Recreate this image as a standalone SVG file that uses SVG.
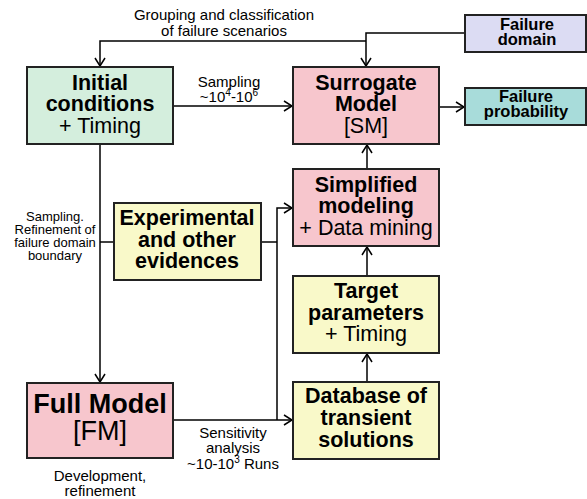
<svg xmlns="http://www.w3.org/2000/svg" width="587" height="499" viewBox="0 0 587 499">
<defs>
<marker id="arr" markerWidth="10" markerHeight="12" refX="9" refY="6" orient="auto" markerUnits="userSpaceOnUse">
<path d="M1,1 L9,6 L1,11" fill="none" stroke="#000" stroke-width="1.5"/>
</marker>
</defs>
<style>
.box{stroke:#222;stroke-width:2}
.green{fill:#d4eedd}
.pink{fill:#f7c6cd}
.yellow{fill:#f9f9c9}
.lav{fill:#dcdcf3}
.teal{fill:#a8dcda}
text{font-family:"Liberation Sans",Arial,sans-serif;fill:#000;text-anchor:middle}
.b{font-weight:bold;font-size:21.5px}
.r{font-size:21.5px}
.lbl{font-size:15px}
.sm{font-size:13px}
.c{fill:none;stroke:#000;stroke-width:1.5}
</style>
<rect width="587" height="499" fill="#fff"/>
<g id="connectors">
<path class="c" d="M465,33 H366 V66" marker-end="url(#arr)"/>
<path class="c" d="M366,41 H100 V66" marker-end="url(#arr)"/>
<path class="c" d="M173,106 H292" marker-end="url(#arr)"/>
<path class="c" d="M439,107 H464" marker-end="url(#arr)"/>
<path class="c" d="M100,144 V382" marker-end="url(#arr)"/>
<path class="c" d="M100,242 H114"/>
<path class="c" d="M261,242 H277"/>
<path class="c" d="M277,420 V208 H292" marker-end="url(#arr)"/>
<path class="c" d="M173,420 H292" marker-end="url(#arr)"/>
<path class="c" d="M367,169 V145" marker-end="url(#arr)"/>
<path class="c" d="M367,276 V247" marker-end="url(#arr)"/>
<path class="c" d="M367,382 V354" marker-end="url(#arr)"/>
</g>
<g id="labels">
<text class="lbl" x="224" y="20">Grouping and classification</text>
<text class="lbl" x="224" y="36">of failure scenarios</text>
<text class="lbl" x="229" y="87">Sampling</text>
<text class="lbl" x="229" y="102">~10<tspan font-size="10" dy="-6">4</tspan><tspan dy="6">-10</tspan><tspan font-size="10" dy="-6">6</tspan></text>
<text class="sm" x="55" y="221">Sampling.</text>
<text class="sm" x="55" y="234">Refinement of</text>
<text class="sm" x="55" y="247">failure domain</text>
<text class="sm" x="55" y="260">boundary</text>
<text class="lbl" x="233" y="438">Sensitivity</text>
<text class="lbl" x="233" y="453">analysis</text>
<text class="lbl" x="233" y="469">~10-10<tspan font-size="10" dy="-6">3</tspan><tspan dy="6"> Runs</tspan></text>
<text class="lbl" x="100" y="481">Development,</text>
<text class="lbl" x="100" y="496">refinement</text>
</g>
<g id="initial">
<rect class="box green" x="27" y="67" width="146" height="77"/>
<text class="b" x="100" y="90">Initial</text>
<text class="b" x="100" y="111">conditions</text>
<text class="r" x="100" y="133">+ Timing</text>
</g>
<g id="surrogate">
<rect class="box pink" x="293" y="67" width="146" height="77"/>
<text class="b" x="366" y="90">Surrogate</text>
<text class="b" x="366" y="111">Model</text>
<text class="r" x="366" y="133">[SM]</text>
</g>
<g id="failure-domain">
<rect class="box lav" x="465" y="15" width="121" height="37"/>
<text class="b" x="527" y="30" style="font-size:16.5px">Failure</text>
<text class="b" x="527" y="45" style="font-size:16.5px">domain</text>
</g>
<g id="failure-probability">
<rect class="box teal" x="465" y="88" width="121" height="37"/>
<text class="b" x="526" y="102" style="font-size:16.5px">Failure</text>
<text class="b" x="526" y="117" style="font-size:16.5px">probability</text>
</g>
<g id="simplified">
<rect class="box pink" x="293" y="169" width="146" height="77"/>
<text class="b" x="366" y="192">Simplified</text>
<text class="b" x="366" y="213">modeling</text>
<text class="r" x="366" y="235">+ Data mining</text>
</g>
<g id="experimental">
<rect class="box yellow" x="114" y="203" width="147" height="77"/>
<text class="b" x="187" y="225">Experimental</text>
<text class="b" x="187" y="247">and other</text>
<text class="b" x="187" y="268">evidences</text>
</g>
<g id="target">
<rect class="box yellow" x="293" y="276" width="146" height="77"/>
<text class="b" x="366" y="298">Target</text>
<text class="b" x="366" y="320">parameters</text>
<text class="r" x="366" y="341">+ Timing</text>
</g>
<g id="full-model">
<rect class="box pink" x="27" y="383" width="146" height="75"/>
<text class="b" x="100" y="413" style="font-size:27px">Full Model</text>
<text class="r" x="100" y="440" style="font-size:27px">[FM]</text>
</g>
<g id="database">
<rect class="box yellow" x="293" y="382" width="146" height="77"/>
<text class="b" x="366" y="403">Database of</text>
<text class="b" x="366" y="425">transient</text>
<text class="b" x="366" y="447">solutions</text>
</g>
</svg>
